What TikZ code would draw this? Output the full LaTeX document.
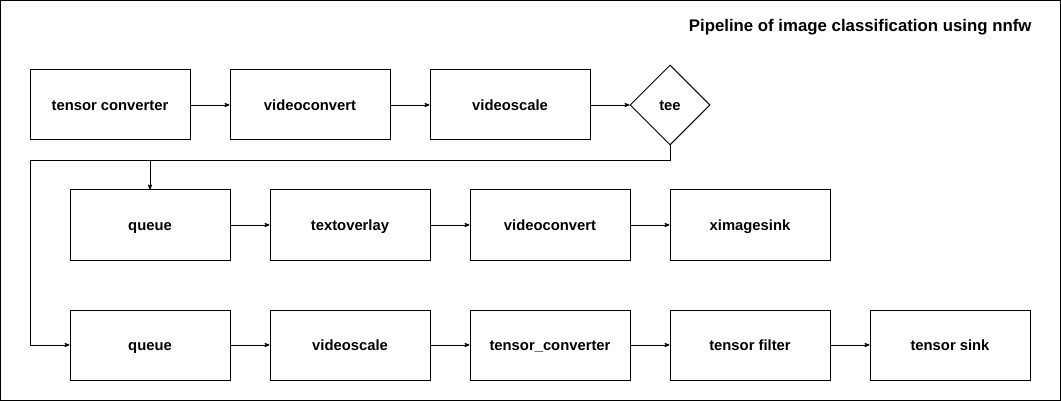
\documentclass[tikz,border=0pt]{standalone}
\usepackage{fontspec}
\setmainfont{Liberation Sans}
\usepackage{tikz}
\usetikzlibrary{arrows}
\usetikzlibrary{positioning}
\usetikzlibrary{shapes.geometric}

\begin{document}
\begin{tikzpicture}[x=1pt,y=-1pt,node distance=200pt,on grid,>=stealth',
		element/.style={rectangle,draw=black,line width=1pt,minimum width=160pt,minimum height=70pt,inner sep=0pt,text height=11.5pt,text depth=0pt,font=\fontsize{14.8}{17}\selectfont\bfseries},
		branch/.style={diamond,draw=black,line width=1pt,minimum width=80pt,minimum height=80pt,inner sep=0pt,aspect=1,text height=11.5pt,text depth=0pt,font=\fontsize{14.8}{17}\selectfont\bfseries},
		link/.style={->,line width=0.8pt}]
		\draw[line width=1pt] (0.5,0.5) rectangle (1060.5,400.5);
		\node[anchor=east,font=\fontsize{16.8}{19}\selectfont\bfseries] (title) at (1035,27) {Pipeline of image classification using nnfw};
		
		% source branch
		\node[element]  (conv)    at (110,105)  {tensor converter};
		\node[element]  (vconv)   [right=of conv]  {videoconvert};
		\node[element]  (vscale)  [right=of vconv] {videoscale};
		\node[branch]   (tee)     [right=of vscale,xshift=-40pt] {tee};
		
		% display branch
		\node[element]  (queueA)  at (150,225)  {queue};
		\node[element]  (overlay) [right=of queueA]  {textoverlay};
		\node[element]  (vconvA)  [right=of overlay] {videoconvert};
		\node[element]  (sink)    [right=of vconvA]  {ximagesink};
		
		% inference branch
		\node[element]  (queueB)  at (150,345)  {queue};
		\node[element]  (vscaleB) [right=of queueB]  {videoscale};
		\node[element]  (tconv)   [right=of vscaleB] {tensor\_converter};
		\node[element]  (filter)  [right=of tconv]   {tensor filter};
		\node[element]  (tsink)   [right=of filter]  {tensor sink};
		
		\coordinate (bend) at (670,160);
		\coordinate (side) at (30,160);
		
		\path[link]
		(conv) edge (vconv)
		(vconv) edge (vscale)
		(vscale) edge (tee)
		(queueA) edge (overlay)
		(overlay) edge (vconvA)
		(vconvA) edge (sink)
		(queueB) edge (vscaleB)
		(vscaleB) edge (tconv)
		(tconv) edge (filter)
		(filter) edge (tsink);
		\draw[link] (tee.south) -- (bend) -| (queueA.north);
		\draw[link] (bend) -- (side) |- (queueB.west);
\end{tikzpicture}
\end{document}
